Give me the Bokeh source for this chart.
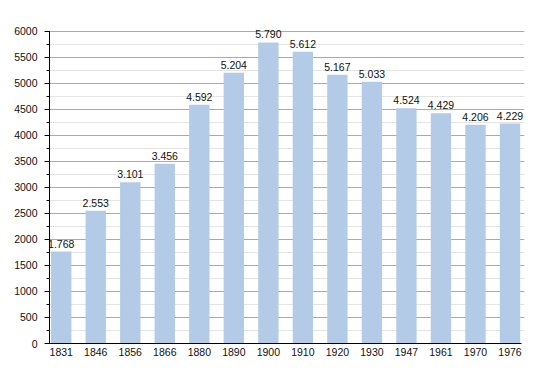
from bokeh.plotting import figure
from bokeh.models import ColumnDataSource, SingleIntervalTicker, FixedTicker, Range1d, LabelSet
from bokeh.core.properties import value
from bokeh.embed import file_html
from bokeh.resources import INLINE

years = ["1831", "1846", "1856", "1866", "1880", "1890", "1900", "1910", "1920", "1930", "1947", "1961", "1970", "1976"]
population = [1768, 2553, 3101, 3456, 4592, 5204, 5790, 5612, 5167, 5033, 4524, 4429, 4206, 4229]
labels = [f"{v:,}".replace(",", ".") for v in population]

idx = list(range(len(years)))
src = ColumnDataSource(dict(x=idx, top=population, label=labels))

FONT = "Liberation Sans"

p = figure(width=542, height=365, output_backend="svg", toolbar_location=None,
           x_range=Range1d(-0.34, 13.42), y_range=Range1d(0, 6115),
           min_border_left=49, min_border_right=18, min_border_top=25, min_border_bottom=22)
p.outline_line_color = None
p.background_fill_color = "white"

p.vbar(x="x", top="top", width=0.59, source=src, fill_color="#b3cbe6", line_color=None)
p.add_layout(LabelSet(x="x", y="top", text="label", source=src, text_align="center",
                      text_baseline="bottom", y_offset=4, text_font=value(FONT),
                      text_font_size=value("10.5px"), text_color=value("#111111")))

# y axis
p.yaxis.ticker = SingleIntervalTicker(interval=500, num_minor_ticks=2)
p.yaxis.bounds = (0, 6000)
p.yaxis.major_tick_out = 5
p.yaxis.major_tick_in = 0
p.yaxis.minor_tick_out = 3
p.yaxis.minor_tick_in = 0
p.yaxis.major_label_standoff = 7
p.yaxis.major_label_text_font = FONT
p.yaxis.major_label_text_font_size = "10.5px"
p.yaxis.major_label_text_color = "#111111"
p.yaxis.axis_line_color = "black"
p.yaxis.major_tick_line_color = "black"
p.yaxis.minor_tick_line_color = "black"

# x axis
p.xaxis.ticker = FixedTicker(ticks=idx)
p.xaxis.bounds = (-0.34, 13.33)
p.xaxis.major_label_overrides = {i: y for i, y in zip(idx, years)}
p.xaxis.major_tick_out = 0
p.xaxis.major_tick_in = 0
p.xaxis.minor_tick_line_color = None
p.xaxis.major_label_standoff = 4
p.xaxis.major_label_text_font = FONT
p.xaxis.major_label_text_font_size = "10.5px"
p.xaxis.major_label_text_color = "#111111"
p.xaxis.axis_line_color = "black"

# grid
p.xgrid.grid_line_color = None
p.ygrid.bounds = (0, 6000)
p.ygrid.grid_line_color = "#aaaaaa"
p.ygrid.minor_grid_line_color = "#e4e4e4"

open("out.html", "w").write(file_html(p, INLINE))
